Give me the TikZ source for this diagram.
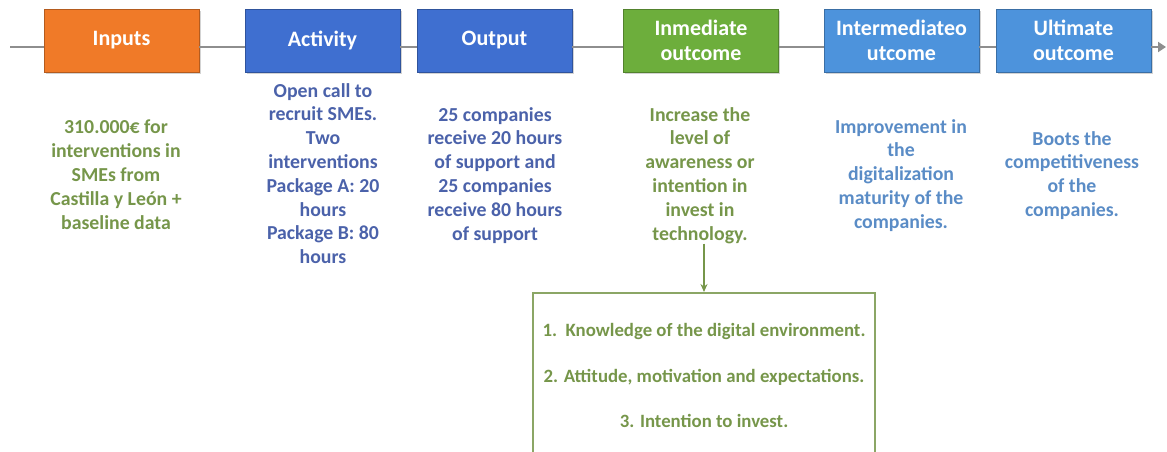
\documentclass[tikz,border=0pt]{standalone}
\usepackage{fontspec}
\setmainfont{Carlito}
\usetikzlibrary{calc,shadows,arrows.meta}
\definecolor{inorange}{HTML}{F07A28}
\definecolor{actblue}{HTML}{3F6FD0}
\definecolor{outgreen}{HTML}{6DAE3C}
\definecolor{skyblue}{HTML}{4D93DC}
\definecolor{olivetxt}{HTML}{76964A}
\definecolor{navytxt}{HTML}{4B62AA}
\definecolor{steeltxt}{HTML}{5A8CC6}
\definecolor{linegray}{HTML}{8E8E8E}

\begin{document}
\begin{tikzpicture}[x=1pt,y=1pt,
    phase/.style={draw=#1!75!black,fill=#1,minimum width=155pt,minimum height=63pt,inner sep=0pt,
      text=white,align=center,font=\fontsize{22}{25.5}\selectfont\bfseries,
      drop shadow={opacity=0.35,shadow xshift=1.5pt,shadow yshift=-2pt}},
    note/.style={text=#1,align=center,anchor=north,inner sep=0pt,
      font=\fontsize{19.8}{23.8}\selectfont\bfseries}]
  \useasboundingbox(0,0)rectangle(1167,-452);
  \clip(0,0)rectangle(1167,-452);
  % the chain of steps
  \foreach \n/\x/\c/\t in {inp/121.5/inorange/Inputs,act/322.5/actblue/Activity,out/494.5/actblue/Output,
      inm/701/outgreen/{Inmediate\\outcome},intm/901.5/skyblue/{Intermediateo\\utcome},ult/1073.5/skyblue/{Ultimate\\outcome}}
    \node[phase=\c](\n)at(\x,-40.5){\t};
  \coordinate(start)at(10,-47);\coordinate(stop)at(1166,-47);
  \draw[linegray,line width=2.5pt](start)--(inp.west |- start);
  \foreach \a/\b in {inp/act,act/out,out/inm,inm/intm,intm/ult}
    \draw[linegray,line width=2.5pt](\a.east |- start)--(\b.west |- start);
  \draw[linegray,line width=2.5pt,-{Triangle[length=8pt,width=10pt]}](ult.east |- start)--(stop);
  % what each step means
  \node[note=olivetxt](inpnote)at(116,-120){310.000€ for\\interventions in\\SMEs from\\Castilla y León +\\baseline data};
  \node[note=navytxt](actnote)at(323,-83){Open call to\\recruit SMEs.\\Two\\interventions\\Package A: 20\\hours\\Package B: 80\\hours};
  \node[note=navytxt](outnote)at(495,-107){25 companies\\receive 20 hours\\of support and\\25 companies\\receive 80 hours\\of support};
  \node[note=olivetxt](inmnote)at(700,-107){Increase the\\level of\\awareness or\\intention in\\invest in\\technology.};
  \node[note=steeltxt](intmnote)at(901,-119){Improvement in\\the\\digitalization\\maturity of the\\companies.};
  \node[note=steeltxt](ultnote)at(1072,-131){Boots the\\competitiveness\\of the\\companies.};
  % the three dimensions
  \node[draw=olivetxt!85,line width=1.5pt,anchor=north,minimum width=342pt,inner xsep=0pt,inner ysep=31pt,
    text=olivetxt,align=center,font=\fontsize{18.8}{45.5}\selectfont\bfseries](dims)at(704,-292)
    {1.\ \ Knowledge of the digital environment.\\2. Attitude, motivation and expectations.\\3. Intention to invest.};
  \draw[olivetxt,line width=1.5pt,-{Stealth[length=8pt,width=7pt]}](inmnote.south -| dims.north)--(dims.north);
\end{tikzpicture}
\end{document}
